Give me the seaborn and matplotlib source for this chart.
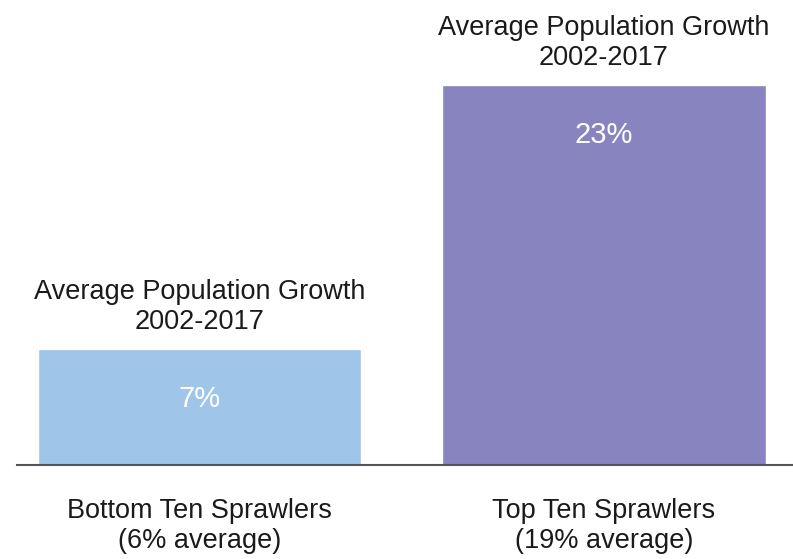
import pandas as pd
import matplotlib.pyplot as plt
import seaborn as sns

# values
groups = ["Bottom Ten Sprawlers", "Top Ten Sprawlers"]
group_avg = ["6% average", "19% average"]
growth = [7, 23]
bar_colors = ["#9fc5e8", "#8884c0"]
header = "Average Population Growth\n2002-2017"

df = pd.DataFrame({"group": groups, "growth": growth})

sns.set_style("white")
plt.rcParams["font.family"] = ["Liberation Sans", "DejaVu Sans"]

fig = plt.figure(figsize=(7.93, 5.59), dpi=100)
ax = fig.add_axes([17 / 793, 94 / 559, 1 - 17 / 793, 465 / 559])

sns.barplot(data=df, x="group", y="growth", hue="group", palette=bar_colors,
            width=0.8, legend=False, ax=ax, saturation=1)

ax.set_xlim(-0.451, 1.467)
ax.set_ylim(0, 28.15)

for i, v in enumerate(growth):
    # header above each bar
    ax.annotate(header, (i, v), xytext=(0, 10), textcoords="offset points",
                ha="center", va="bottom", fontsize=19.5, color="#1a1a1a",
                linespacing=1.2)
    # value inside the bar
    ax.annotate(f"{v}%", (i, v), xytext=(0, -36), textcoords="offset points",
                ha="center", va="center", fontsize=21, color="white")

ax.set_xticks(range(len(groups)))
ax.set_xticklabels([f"{g}\n({a})" for g, a in zip(groups, group_avg)],
                   fontsize=19.5, color="#1a1a1a", linespacing=1.2)
ax.tick_params(axis="x", length=0, pad=24)
ax.set_yticks([])
ax.set_xlabel("")
ax.set_ylabel("")

sns.despine(ax=ax, left=True, top=True, right=True)
ax.spines["bottom"].set_color("#555555")
ax.spines["bottom"].set_linewidth(1.5)

fig.savefig("out.png", dpi=100)
